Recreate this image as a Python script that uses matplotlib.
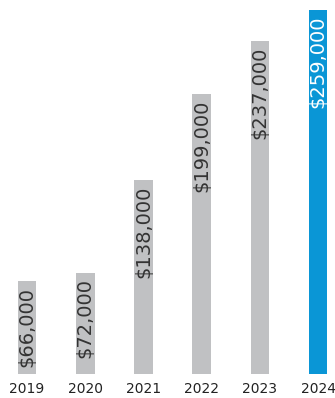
import matplotlib
matplotlib.use('Agg')
import matplotlib.pyplot as plt

# data
years = ['2019', '2020', '2021', '2022', '2023', '2024']
values = [66000, 72000, 138000, 199000, 237000, 259000]
labels = ['$66,000', '$72,000', '$138,000', '$199,000', '$237,000', '$259,000']

gray = '#c0c1c3'
blue = '#0a96d6'
colors = [gray] * 5 + [blue]
text_colors = ['#333333'] * 5 + ['white']

fig = plt.figure(figsize=(3.35, 3.98), dpi=100)
ax = fig.add_axes([0, 0.0603, 1, 0.9397])

x = list(range(len(years)))
ax.bar(x, values, width=0.32, color=colors)

# value labels inside the bars, reading upwards
for i in x:
    ax.annotate(labels[i], (i, values[i]), xytext=(0, -4), textcoords='offset points',
                rotation=90, ha='center', va='top', fontsize=14, color=text_colors[i])

ax.set_xlim(-0.464, 5.29)
ax.set_ylim(0, 266115)
ax.set_xticks(x)
ax.set_xticklabels(years, fontsize=10, color='#222222')
ax.tick_params(axis='x', length=0, pad=6)
ax.set_yticks([])
for s in ax.spines.values():
    s.set_visible(False)

fig.savefig('out.png', dpi=100)
